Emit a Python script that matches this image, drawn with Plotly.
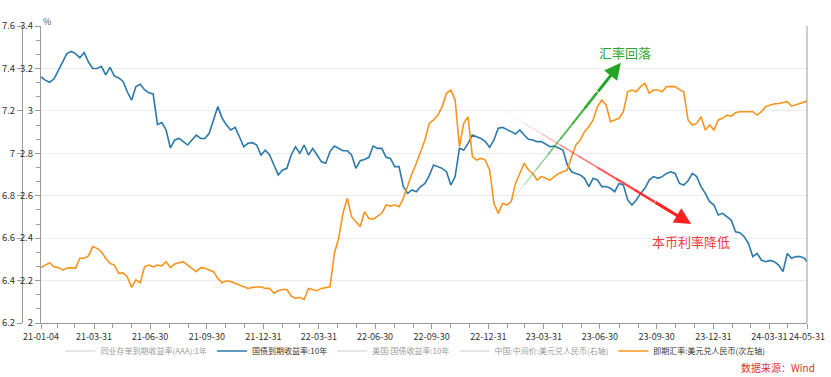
import pandas as pd
import plotly.graph_objects as go

# ---------------- data ----------------
dates = list(pd.date_range("2021-01-04", periods=178, freq="7D")) + [pd.Timestamp("2024-05-31")]

bond_10y = [
    3.16, 3.145, 3.135, 3.15, 3.19, 3.23, 3.27, 3.28, 3.27, 3.25, 3.275, 3.23, 3.20, 3.20, 3.21, 3.17,
    3.205, 3.165, 3.155, 3.14, 3.09, 3.05, 3.115, 3.125, 3.10, 3.085, 3.08, 2.935, 2.945, 2.91, 2.825,
    2.863, 2.87, 2.855, 2.839, 2.863, 2.886, 2.87, 2.87, 2.894, 2.957, 3.02, 2.965, 2.933, 2.91, 2.922,
    2.878, 2.831, 2.847, 2.85, 2.839, 2.792, 2.815, 2.792, 2.745, 2.698, 2.721, 2.729, 2.792, 2.831, 2.80,
    2.839, 2.792, 2.823, 2.792, 2.76, 2.753, 2.808, 2.834, 2.823, 2.812, 2.812, 2.792, 2.729, 2.765, 2.771,
    2.781, 2.834, 2.823, 2.823, 2.781, 2.776, 2.737, 2.737, 2.643, 2.611, 2.627, 2.619, 2.643, 2.658, 2.695,
    2.745, 2.737, 2.729, 2.713, 2.65, 2.69, 2.823, 2.815, 2.847, 2.886, 2.878, 2.87, 2.855, 2.828, 2.863,
    2.918, 2.922, 2.91, 2.902, 2.891, 2.91, 2.886, 2.866, 2.863, 2.855, 2.855, 2.844, 2.831, 2.834, 2.823,
    2.815, 2.745, 2.713, 2.705, 2.698, 2.682, 2.643, 2.682, 2.674, 2.643, 2.643, 2.635, 2.619, 2.658, 2.65,
    2.58, 2.556, 2.58, 2.611, 2.635, 2.674, 2.69, 2.682, 2.69, 2.705, 2.713, 2.705, 2.658, 2.65, 2.67,
    2.705, 2.69, 2.643, 2.611, 2.572, 2.556, 2.509, 2.517, 2.501, 2.485, 2.43, 2.426, 2.407, 2.375, 2.313,
    2.328, 2.297, 2.289, 2.295, 2.289, 2.273, 2.242, 2.328, 2.305, 2.313, 2.313, 2.305, 2.289,
]

usdcny_spot = [
    6.461, 6.473, 6.484, 6.465, 6.461, 6.450, 6.458, 6.461, 6.458, 6.505, 6.505, 6.516, 6.56, 6.552, 6.536,
    6.505, 6.481, 6.473, 6.434, 6.436, 6.418, 6.368, 6.403, 6.39, 6.465, 6.473, 6.465, 6.473, 6.469, 6.489,
    6.461,
    6.478, 6.484, 6.489, 6.473, 6.458, 6.442, 6.461, 6.458, 6.45, 6.442, 6.41, 6.39, 6.399, 6.395, 6.387,
    6.379, 6.374, 6.363, 6.368, 6.371, 6.371, 6.363, 6.363, 6.34, 6.352, 6.358, 6.358, 6.327, 6.316, 6.321,
    6.311, 6.363, 6.359, 6.352, 6.363, 6.368, 6.371, 6.528, 6.599, 6.717, 6.788, 6.701, 6.678, 6.654, 6.725,
    6.693, 6.689, 6.701, 6.717, 6.756, 6.751, 6.756, 6.748, 6.788, 6.85, 6.905, 6.953, 7.008, 7.063, 7.141,
    7.157, 7.18, 7.22, 7.283, 7.298, 7.251, 7.031, 7.141, 7.173, 6.984, 6.968, 6.976, 6.968, 6.921, 6.764,
    6.717, 6.764, 6.756, 6.772, 6.858, 6.905, 6.953, 6.921, 6.905, 6.874, 6.89, 6.882, 6.874, 6.89, 6.905,
    6.913, 6.921, 6.984, 7.039, 7.063, 7.102, 7.125, 7.157, 7.22, 7.251, 7.228, 7.149, 7.157, 7.165, 7.196,
    7.29, 7.298, 7.29, 7.314, 7.33, 7.283, 7.298, 7.298, 7.29, 7.314, 7.314, 7.314, 7.3, 7.29, 7.157,
    7.133, 7.141, 7.173, 7.11, 7.133, 7.11, 7.157, 7.165, 7.18, 7.175, 7.191, 7.196, 7.196, 7.196, 7.196,
    7.18, 7.196, 7.22, 7.228, 7.233, 7.235, 7.238, 7.243, 7.222, 7.228, 7.235, 7.243, 7.246,
]

series_names = [
    "同业存单到期收益率(AAA):1年",
    "国债到期收益率:10年",
    "美国:国债收益率:10年",
    "中国:中间价:美元兑人民币(右轴)",
    "即期汇率:美元兑人民币(次左轴)",
]

x_tick_dates = ["2021-01-04", "2021-03-31", "2021-06-30", "2021-09-30", "2021-12-31", "2022-03-31",
                "2022-06-30", "2022-09-30", "2022-12-31", "2023-03-31", "2023-06-30", "2023-09-30",
                "2023-12-31", "2024-03-31", "2024-05-31"]
x_tick_labels = [pd.Timestamp(d).strftime("%y-%m-%d") for d in x_tick_dates]
x_minor_dates = [d.strftime("%Y-%m-%d") for d in pd.date_range("2021-01-31", "2024-04-30", freq="ME")]

# annotation anchors (date, USD/CNY value)
green_arrow = (("2023-01-19", 6.709), ("2023-08-03", 7.427))
green_label = ("2023-08-10", 7.477, "汇率回落")
red_arrow = (("2023-01-27", 7.196), ("2023-11-25", 6.667))
red_label = ("2023-11-25", 6.586, "本币利率降低")

# ---------------- style ----------------
FONT = "Noto Sans CJK SC, Microsoft YaHei, sans-serif"
BLUE = "#2b78a9"
ORANGE = "#f7941e"
GREY_LEG = "#cccccc"
AXIS = "#9a9a9a"
GRID = "#e8ebf2"
TXT = "#333333"

fig = go.Figure()

fig.add_trace(go.Scatter(x=[dates[0]], y=[None], name=series_names[0], mode="lines",
                         line=dict(color=GREY_LEG, width=2), visible="legendonly"))
fig.add_trace(go.Scatter(x=dates, y=bond_10y, name=series_names[1], mode="lines",
                         line=dict(color=BLUE, width=1.6), yaxis="y"))
fig.add_trace(go.Scatter(x=[dates[0]], y=[None], name=series_names[2], mode="lines",
                         line=dict(color=GREY_LEG, width=2), visible="legendonly"))
fig.add_trace(go.Scatter(x=[dates[0]], y=[None], name=series_names[3], mode="lines",
                         line=dict(color=GREY_LEG, width=2), visible="legendonly"))
fig.add_trace(go.Scatter(x=dates, y=usdcny_spot, name=series_names[4], mode="lines",
                         line=dict(color=ORANGE, width=1.6), yaxis="y2"))

W, H = 831, 377
ML, MR, MT, MB = 22, 24, 26, 54
plot_w = W - ML - MR
dom0 = 19 / plot_w


def px_x(sx):  # screen x -> paper x
    return (sx - ML) / plot_w


def px_y(sy):  # screen y -> paper y
    return (H - MB - sy) / (H - MT - MB)


fig.update_layout(
    width=W, height=H,
    margin=dict(l=ML, r=MR, t=MT, b=MB, autoexpand=False),
    paper_bgcolor="white", plot_bgcolor="white",
    font=dict(family=FONT, size=9, color=TXT),
    showlegend=True,
    legend=dict(orientation="h", xref="container", x=0.5, xanchor="center",
                yref="paper", y=px_y(351), yanchor="middle",
                font=dict(size=8, color=TXT), itemwidth=30,
                bgcolor="rgba(0,0,0,0)"),
    xaxis=dict(domain=[dom0, 1], type="date",
               range=["2021-01-04", "2024-05-31"],
               tickmode="array", tickvals=x_tick_dates, ticktext=x_tick_labels, tickangle=0,
               ticks="outside", ticklen=5, tickcolor=AXIS, showline=True, linecolor=AXIS,
               showgrid=False, zeroline=False, tickfont=dict(size=9, color=TXT),
               minor=dict(tickmode="array", tickvals=x_minor_dates, ticks="outside",
                          ticklen=4, tickcolor=AXIS, showgrid=False),
               automargin=False),
    yaxis=dict(range=[2, 3.4], dtick=0.2, tick0=2, ticks="outside", ticklen=5,
               tickcolor=AXIS, showline=True, linecolor=AXIS, showgrid=True,
               gridcolor=GRID, gridwidth=1, zeroline=False,
               tickfont=dict(size=9.5, color=TXT),
               minor=dict(dtick=0.2 / 3, tick0=2, ticks="outside", ticklen=4,
                          tickcolor=AXIS, showgrid=False),
               automargin=False),
    yaxis2=dict(range=[6.2, 7.6], dtick=0.2, tick0=6.2, overlaying="y", side="left",
                anchor="free", position=0, ticks="outside", ticklen=5, tickcolor=AXIS,
                showline=True, linecolor=AXIS, showgrid=False, zeroline=False,
                tickfont=dict(size=9.5, color=TXT), automargin=False),
)

# right axis line
fig.add_shape(type="line", xref="paper", yref="paper", x0=1, x1=1, y0=0, y1=1,
              line=dict(color=AXIS, width=1))

# "%" unit label
fig.add_annotation(xref="paper", yref="paper", x=px_x(41), y=px_y(13),
                   text="%", showarrow=False, font=dict(size=9, color="#555555"))


def tapered_arrow(p0, p1, color):
    t0, v0 = pd.Timestamp(p0[0]), p0[1]
    t1, v1 = pd.Timestamp(p1[0]), p1[1]

    def at(f):
        return (t0 + (t1 - t0) * f).strftime("%Y-%m-%d %H:%M"), v0 + (v1 - v0) * f

    n = 10
    for k in range(n - 2):
        f0, f1 = k / n, (k + 1.05) / n
        w = 0.5 + 2.3 * (k / (n - 2))
        op = 0.12 + 0.88 * (k / (n - 2)) ** 0.8
        xa, ya = at(f0)
        xb, yb = at(f1)
        fig.add_shape(type="line", xref="x", yref="y2", x0=xa, y0=ya, x1=xb, y1=yb,
                      line=dict(color=color, width=w), opacity=op, layer="above")
    xa, ya = at((n - 2) / n)
    fig.add_annotation(xref="x", yref="y2", axref="x", ayref="y2",
                       x=p1[0], y=p1[1], ax=xa, ay=ya, text="",
                       showarrow=True, arrowhead=2, arrowsize=1.1, arrowwidth=3,
                       arrowcolor=color, standoff=0)


tapered_arrow(*green_arrow, "#22a522")
tapered_arrow(*red_arrow, "#ff2020")

fig.add_annotation(xref="x", yref="y2", x=green_label[0], y=green_label[1], text=green_label[2],
                   showarrow=False, font=dict(size=13, color="#2ea52e", family=FONT))
fig.add_annotation(xref="x", yref="y2", x=red_label[0], y=red_label[1], text=red_label[2],
                   showarrow=False, font=dict(size=13, color="#f03c3c", family=FONT))

# source note
fig.add_annotation(xref="paper", yref="paper", x=px_x(817), y=px_y(367),
                   xanchor="right", yanchor="middle", text="数据来源：Wind", showarrow=False,
                   font=dict(size=10, color="#e03131", family=FONT))

fig.write_html("out.html", config={"displayModeBar": False},
               post_script="document.body.style.margin='0px';document.body.style.overflow='hidden';")
